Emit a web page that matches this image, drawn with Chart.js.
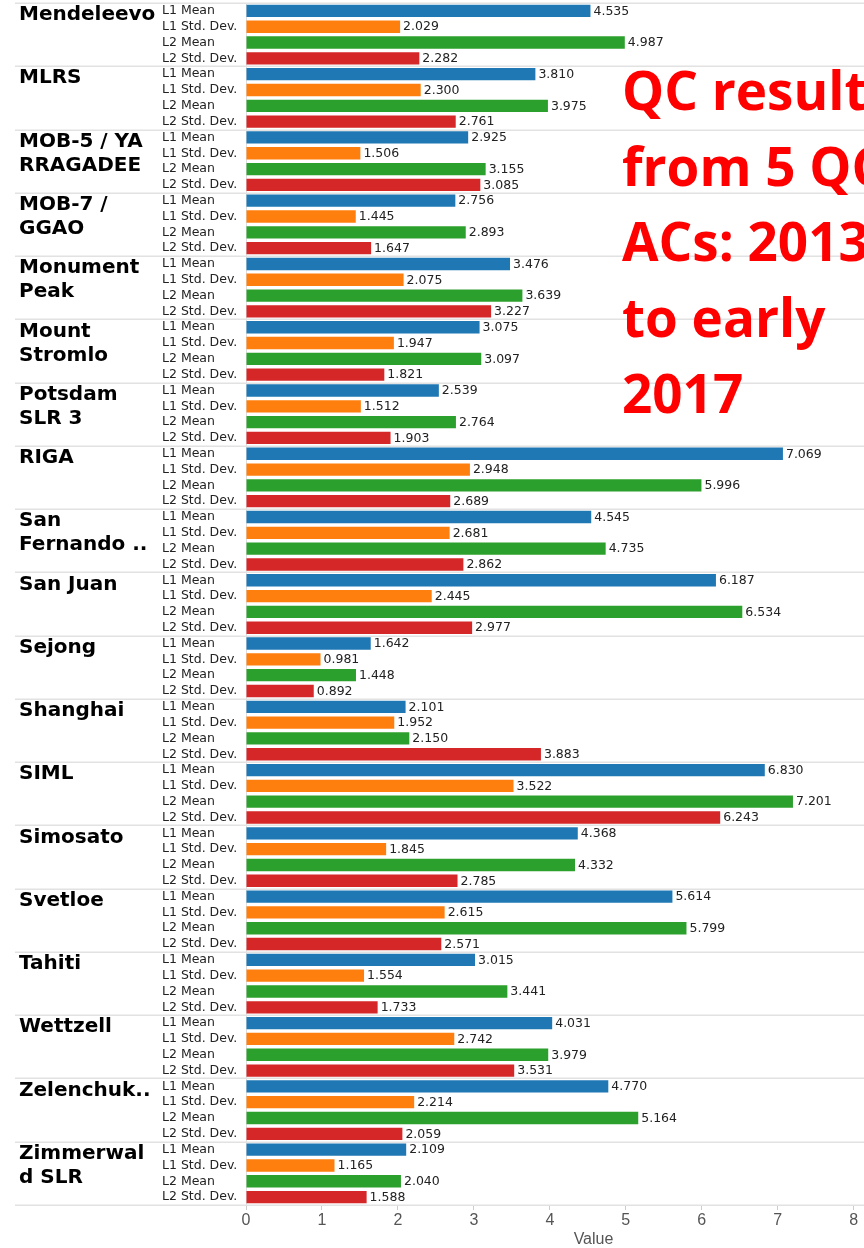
<!DOCTYPE html>
<html>
<head>
<meta charset="utf-8">
<script src="https://cdn.jsdelivr.net/npm/chart.js@4/dist/chart.umd.min.js"></script>
<style>
  html, body { margin: 0; padding: 0; background: #fff; overflow: hidden; }
  #wrap { width: 864px; height: 1248px; overflow: hidden; }
  canvas { display: block; }
</style>
</head>
<body>
<div id="wrap"><canvas id="qcChart" width="960" height="1248"></canvas></div>
<script>
// ---- data ----
const stations = [
  ["Mendeleevo"], ["MLRS"], ["MOB-5 / YA", "RRAGADEE"], ["MOB-7 /", "GGAO"],
  ["Monument", "Peak"], ["Mount", "Stromlo"], ["Potsdam", "SLR 3"], ["RIGA"],
  ["San", "Fernando .."], ["San Juan"], ["Sejong"], ["Shanghai"], ["SIML"],
  ["Simosato"], ["Svetloe"], ["Tahiti"], ["Wettzell"], ["Zelenchuk.."],
  ["Zimmerwal", "d SLR"]
];
const measures = ["L1 Mean", "L1 Std. Dev.", "L2 Mean", "L2 Std. Dev."];

const l1Mean = [4.535, 3.810, 2.925, 2.756, 3.476, 3.075, 2.539, 7.069, 4.545, 6.187,
                1.642, 2.101, 6.830, 4.368, 5.614, 3.015, 4.031, 4.770, 2.109];
const l1Std  = [2.029, 2.300, 1.506, 1.445, 2.075, 1.947, 1.512, 2.948, 2.681, 2.445,
                0.981, 1.952, 3.522, 1.845, 2.615, 1.554, 2.742, 2.214, 1.165];
const l2Mean = [4.987, 3.975, 3.155, 2.893, 3.639, 3.097, 2.764, 5.996, 4.735, 6.534,
                1.448, 2.150, 7.201, 4.332, 5.799, 3.441, 3.979, 5.164, 2.040];
const l2Std  = [2.282, 2.761, 3.085, 1.647, 3.227, 1.821, 1.903, 2.689, 2.862, 2.977,
                0.892, 3.883, 6.243, 2.785, 2.571, 1.733, 3.531, 2.059, 1.588];

const xTicks = [0, 1, 2, 3, 4, 5, 6, 7, 8, 9];
const noteLines = ["QC results", "from 5 QC", "ACs: 2013", "to early", "2017"];

const measureColors = ["#1f77b4", "#ff7f0e", "#2ca02c", "#d62728"];

// ---- build flat rows (station x measure) ----
const series = [l1Mean, l1Std, l2Mean, l2Std];
const rowLabels = [];
const rowValues = [];
const rowColors = [];
stations.forEach((s, i) => {
  measures.forEach((m, j) => {
    rowLabels.push(m);
    rowValues.push(series[j][i]);
    rowColors.push(measureColors[j]);
  });
});

// ---- plugins ----
const groupPlugin = {
  id: "groups",
  beforeDatasetsDraw(chart) {
    const { ctx } = chart;
    const y = chart.scales.y;
    const rowH = (y.bottom - y.top) / rowLabels.length;
    ctx.save();
    ctx.strokeStyle = "#e2e2e2";
    ctx.lineWidth = 1.5;
    for (let g = 0; g <= stations.length; g++) {
      const py = Math.round(y.top + g * measures.length * rowH) + 0.25;
      ctx.beginPath();
      ctx.moveTo(15, py);
      ctx.lineTo(chart.width, py);
      ctx.stroke();
    }
    // station names
    ctx.fillStyle = "#000";
    ctx.font = "bold 20px 'DejaVu Sans'";
    ctx.textBaseline = "middle";
    ctx.textAlign = "left";
    stations.forEach((lines, g) => {
      const top = y.top + g * measures.length * rowH;
      lines.forEach((t, k) => ctx.fillText(t, 19, top + 12 + k * 24));
    });
    ctx.restore();
  }
};

const valueLabelPlugin = {
  id: "valueLabels",
  afterDatasetsDraw(chart) {
    const { ctx } = chart;
    const meta = chart.getDatasetMeta(0);
    ctx.save();
    ctx.font = "12.5px 'DejaVu Sans'";
    ctx.fillStyle = "#222";
    ctx.textBaseline = "middle";
    ctx.textAlign = "left";
    meta.data.forEach((bar, i) => {
      ctx.fillText(rowValues[i].toFixed(3), bar.x + 3, bar.y + 0.5);
    });
    ctx.restore();
  }
};

const notePlugin = {
  id: "note",
  afterDraw(chart) {
    const { ctx } = chart;
    ctx.save();
    ctx.fillStyle = "#ff0000";
    ctx.font = "bold 53px 'Open Sans'";
    ctx.textBaseline = "alphabetic";
    ctx.textAlign = "left";
    noteLines.forEach((t, k) => ctx.fillText(t, 622, 110 + k * 75.7));
    ctx.restore();
  }
};

// ---- chart ----
new Chart(document.getElementById("qcChart"), {
  type: "bar",
  data: {
    labels: rowLabels,
    datasets: [{
      data: rowValues,
      backgroundColor: rowColors,
      borderWidth: 0,
      barPercentage: 0.78,
      categoryPercentage: 1
    }]
  },
  options: {
    indexAxis: "y",
    responsive: false,
    animation: false,
    layout: { padding: { left: 162, top: 3, right: 19, bottom: 0 } },
    plugins: {
      legend: { display: false },
      tooltip: { enabled: false }
    },
    scales: {
      y: {
        type: "category",
        offset: true,
        grid: { display: false, drawTicks: false },
        border: { display: true, color: "#dddddd", width: 1 },
        ticks: {
          crossAlign: "far",
          padding: 0,
          autoSkip: false,
          color: "#222",
          font: { family: "'DejaVu Sans'", size: 12.5 }
        },
        afterFit: s => { s.width = 84; s.paddingTop = 0; s.paddingBottom = 0; }
      },
      x: {
        type: "linear",
        min: 0,
        max: 9.15,
        afterBuildTicks: s => { s.ticks = xTicks.map(v => ({ value: v })); },
        grid: { display: true, drawOnChartArea: false, drawTicks: true, tickLength: 5, color: "#cccccc" },
        border: { display: false },
        ticks: {
          padding: 1,
          color: "#555",
          font: { family: "'Liberation Sans'", size: 16 }
        },
        title: {
          display: true,
          text: "Value",
          color: "#555",
          padding: { top: 0, bottom: 0 },
          font: { family: "'Liberation Sans'", size: 16, lineHeight: 1 }
        },
        afterFit: s => { s.height = 43; }
      }
    }
  },
  plugins: [groupPlugin, valueLabelPlugin, notePlugin]
});
</script>
</body>
</html>
